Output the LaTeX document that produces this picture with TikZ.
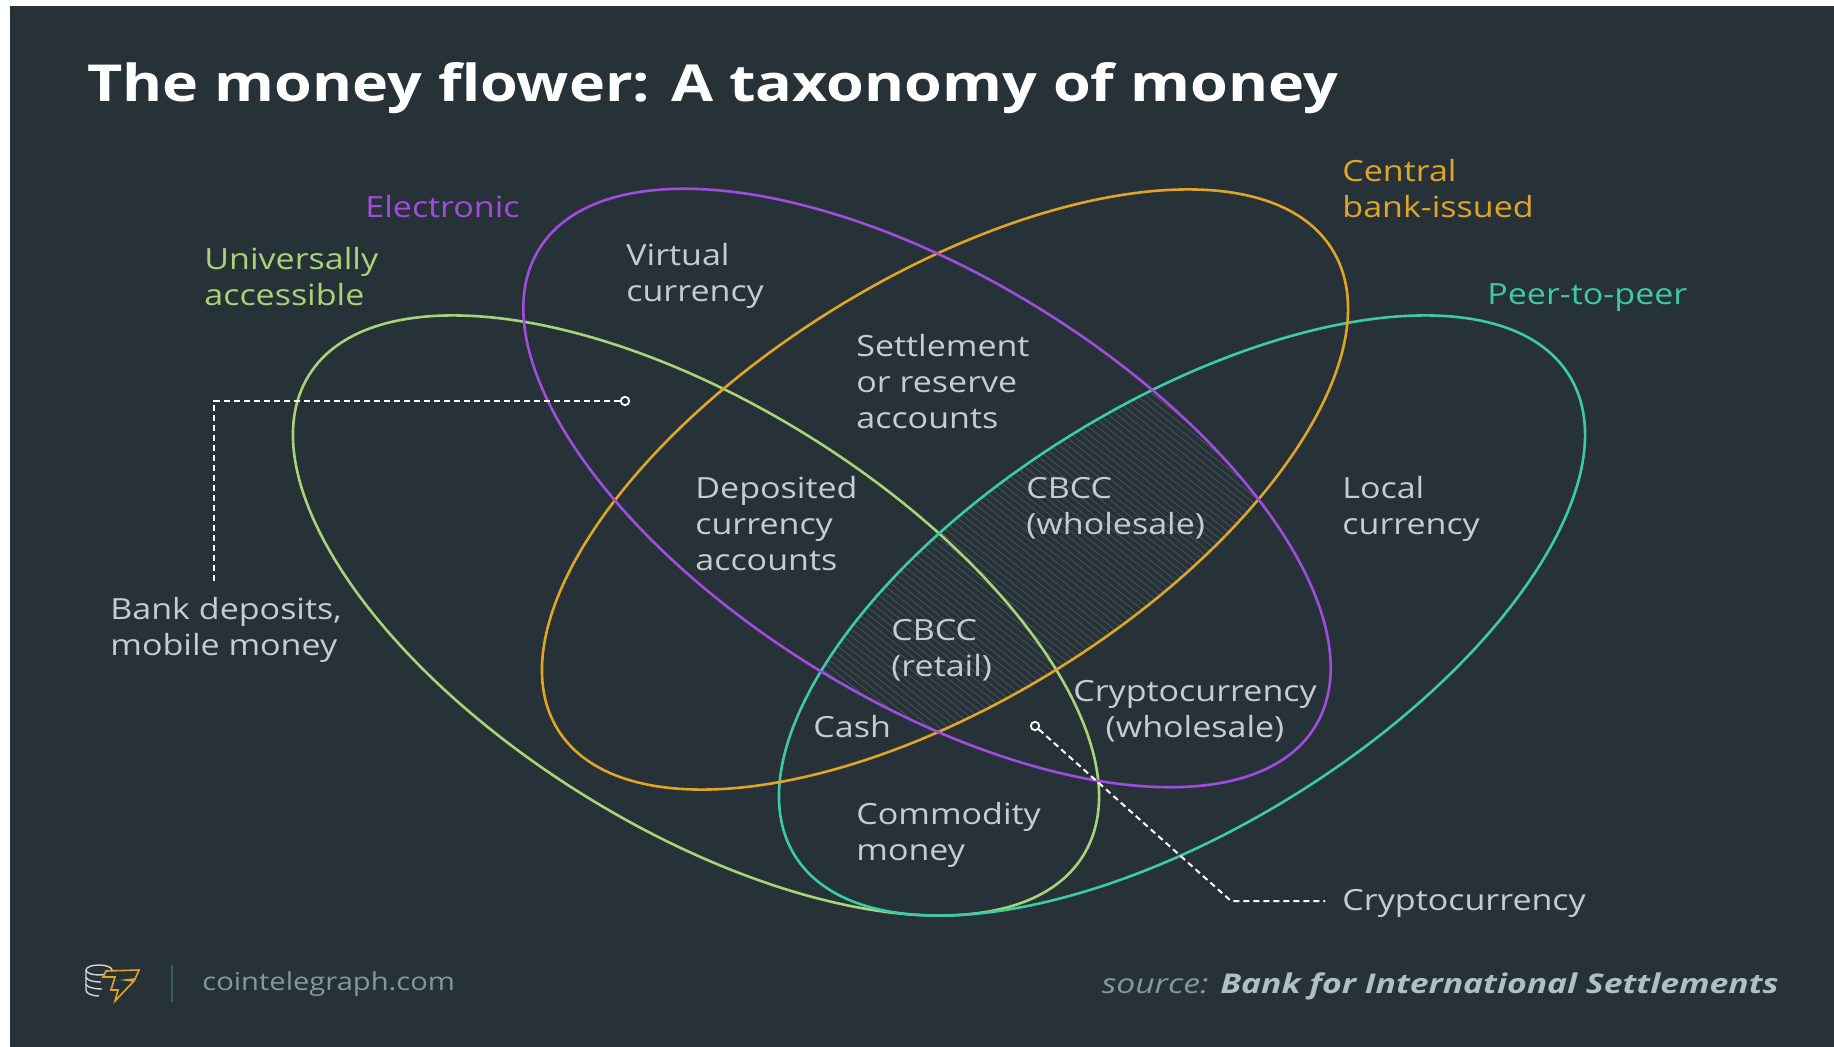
\documentclass[tikz,border=0pt]{standalone}
\usepackage{fontspec}
\setmainfont{Open Sans}[FakeStretch=1.165]
\newfontfamily\sitefont{Open Sans}[FakeStretch=1.175]
\newfontfamily\titlefont{Open Sans}[FakeStretch=1.197]
\newfontfamily\srcfont{Open Sans}[FakeStretch=1.24]
\definecolor{bgc}{HTML}{263238}
\definecolor{purp}{HTML}{A04CDF}
\definecolor{gree}{HTML}{A8D478}
\definecolor{oran}{HTML}{E0A525}
\definecolor{teal2}{HTML}{3CCBA6}
\definecolor{lab}{HTML}{C6CCCF}
\definecolor{hat}{HTML}{454F55}
\definecolor{sitec}{HTML}{8797A0}
\definecolor{srcc}{HTML}{B0BEC5}
\definecolor{sepc}{HTML}{3F5867}
\tikzset{x=0.5pt,y=-0.5pt,
  petal/.style={line width=1.3pt},
  lbl/.style={text=lab,font=\fontsize{14.6}{18}\selectfont,inner sep=0pt,anchor=west,align=left},
  lblc/.style={lbl,anchor=center,align=center},
  dashline/.style={draw=white,line width=1pt,dash pattern=on 3pt off 2pt},
  dotn/.style={circle,draw=white,fill=bgc,line width=0.9pt,inner sep=0pt,minimum size=4.2pt}}
\newcommand{\petalpath}[2]{(#1) ellipse [x radius=227.8pt,y radius=105.9pt,rotate=#2]}
\begin{document}
\begin{tikzpicture}
\useasboundingbox (0,0) rectangle (1834,1047);
\fill[white] (0,0) rectangle (1834,1047);
\fill[bgc] (10,6) rectangle (1834,1047);
\coordinate (cgreen) at (696,615.5);
\coordinate (cteal) at (1182,615.5);
\coordinate (cpurple) at (927,488);
\coordinate (corange) at (945,489.5);
% hatching
\begin{scope}
\clip \petalpath{cpurple}{-31.6};
\clip \petalpath{corange}{31.8};
\clip \petalpath{cteal}{31.8};
\foreach \o in {-500,-493,...,900}
  \draw[hat,line width=0.45pt] (700,\o) -- (1400,\o+560);
\end{scope}
% petals
\draw[petal,gree] \petalpath{cgreen}{-31.8};
\draw[petal,teal2] \petalpath{cteal}{31.8};
\draw[petal,oran] \petalpath{corange}{31.8};
\draw[petal,purp] \petalpath{cpurple}{-31.6};
% title
\node[inner sep=0pt,anchor=base west,text=white,font=\titlefont\fontsize{25.5}{30}\selectfont\bfseries] (title) at (87,102) {The money flower: A taxonomy of money};
% set labels
\node[lbl,text=purp] (lelec) at (365,207) {Electronic};
\node[lbl,text=gree] (luni) at (204,276.5) {Universally\\accessible};
\node[lbl,text=oran] (lcen) at (1342,189) {Central\\bank-issued};
\node[lbl,text=teal2] (lpeer) at (1487,298) {Peer-to-peer};
% region labels
\node[lbl] (virt) at (626,276) {Virtual\\currency};
\node[lbl] (sett) at (856,381.5) {Settlement\\or reserve\\accounts};
\node[lbl] (depo) at (695,524) {Deposited\\currency\\accounts};
\node[lbl] (cbw) at (1026,508.5) {CBCC\\(wholesale)};
\node[lbl] (cbr) at (891,650.5) {CBCC\\(retail)};
\node[lbl] (cash) at (813,727) {Cash};
\node[lblc] (cryw) at (1195,711.5) {Cryptocurrency\\(wholesale)};
\node[lbl] (loca) at (1342,509) {Local\\currency};
\node[lbl] (comm) at (856,835) {Commodity\\money};
\node[lbl] (bank) at (110,630) {Bank deposits,\\mobile money};
\node[lbl] (cryp) at (1342,903.5) {Cryptocurrency};
% leader lines
\node[dotn] (dotbank) at (625,401) {};
\node[dotn] (dotcryp) at (1035,726) {};
\coordinate (bendb) at (214,401);
\coordinate (endb) at (214,582);
\coordinate (bendc) at (1231,901);
\coordinate (endc) at (1325,901);
\draw[dashline] (dotbank) -- (bendb) -- (endb);
\draw[dashline] (dotcryp) -- (bendc) -- (endc);
% footer
\draw[white!80!bgc,line width=0.7pt] (99,970) ellipse [x radius=13,y radius=5];
\draw[white!80!bgc,line width=0.7pt] (86,970) -- (86,990) arc[start angle=180,end angle=270,x radius=13,y radius=-6];
\draw[white!80!bgc,line width=0.7pt] (86,977) arc[start angle=180,end angle=270,x radius=15,y radius=-5] (86,984) arc[start angle=180,end angle=270,x radius=16,y radius=-5];
\draw[oran,line width=0.8pt,line join=miter,fill=bgc] (103,977) -- (106,971) -- (139,970) -- (135,979) -- (126,980) -- (134,981) -- (115,1001) -- (118,990) -- (111,990) -- (115,977) -- cycle;
\draw[sepc,line width=1pt] (172,965) -- (172,1002);
\node[inner sep=0pt,anchor=base west,text=sitec,font=\sitefont\fontsize{12.4}{14}\selectfont] (site) at (202,990) {cointelegraph.com};
\node[inner sep=0pt,anchor=base east,text=sitec,font=\srcfont\fontsize{13.6}{16}\selectfont] (src) at (1779,993) {\textit{source: }\textcolor{srcc}{\textbf{\textit{Bank for International Settlements}}}};
\end{tikzpicture}
\end{document}
